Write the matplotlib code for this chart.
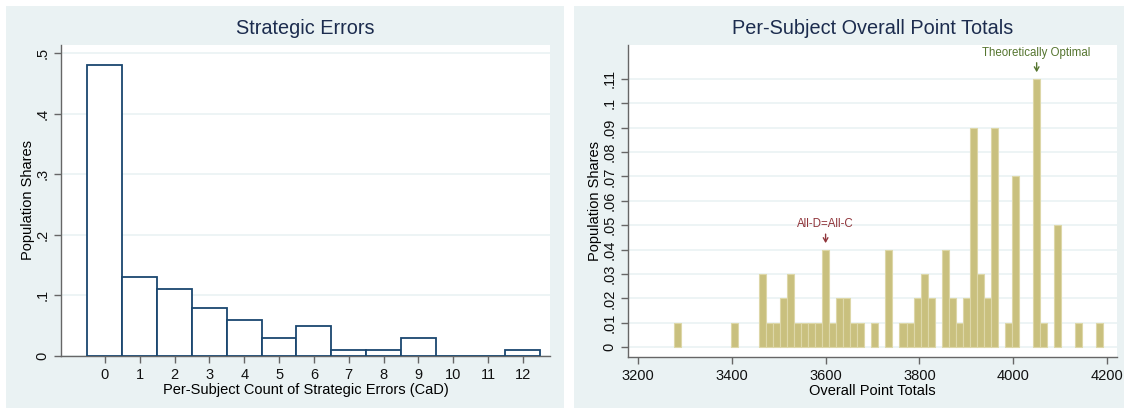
import numpy as np
import matplotlib
matplotlib.use("Agg")
import matplotlib.pyplot as plt
from matplotlib.patches import Rectangle

plt.rcParams['font.family'] = ['Liberation Sans', 'DejaVu Sans']


# --- Data: strategic errors (left) ---

err_counts = [0, 1, 2, 3, 4, 5, 6, 7, 8, 9, 10, 11, 12]
err_shares = [0.48, 0.13, 0.11, 0.08, 0.06, 0.03, 0.05, 0.01, 0.01, 0.03, 0.0, 0.0, 0.01]

# --- Data: overall point totals (right), bins of width 15 ---

pt_centres = [3285, 3405,
              3465, 3480, 3495, 3510, 3525, 3540, 3555, 3570, 3585, 3600,
              3615, 3630, 3645, 3660, 3675, 3705, 3735,
              3765, 3780, 3795, 3810, 3825,
              3855, 3870, 3885, 3900, 3915, 3930, 3945, 3960,
              3990, 4005, 4050, 4065, 4095, 4140, 4185]
pt_shares = [0.01, 0.01,
             0.03, 0.01, 0.01, 0.02, 0.03, 0.01, 0.01, 0.01, 0.01, 0.04,
             0.01, 0.02, 0.02, 0.01, 0.01, 0.01, 0.04,
             0.01, 0.01, 0.02, 0.03, 0.02,
             0.04, 0.02, 0.01, 0.02, 0.09, 0.03, 0.02, 0.09,
             0.01, 0.07, 0.11, 0.01, 0.05, 0.01, 0.01]
bin_width = 15

left_yticks = [0, 0.1, 0.2, 0.3, 0.4, 0.5]
left_ylabels = ['0', '.1', '.2', '.3', '.4', '.5']
right_yticks = [i / 100 for i in range(12)]
right_ylabels = ['0'] + ['.%02d' % i for i in range(1, 10)] + ['.1', '.11']
right_xticks = [3200, 3400, 3600, 3800, 4000, 4200]


# --- Figure and panel backgrounds ---

W, H = 1124, 408
fig = plt.figure(figsize=(W / 100, H / 100), dpi=100)
fig.patch.set_facecolor('white')

panel_bg = '#eaf2f3'
fig.patches.append(Rectangle((6 / W, 0), 558 / W, 402 / H, transform=fig.transFigure,
                             facecolor=panel_bg, edgecolor='none', zorder=-5))
fig.patches.append(Rectangle((574 / W, 0), 550 / W, 402 / H, transform=fig.transFigure,
                             facecolor=panel_bg, edgecolor='none', zorder=-5))

ax1 = fig.add_axes([61 / W, (H - 356) / H, 489 / W, 311 / H])
ax2 = fig.add_axes([628 / W, (H - 357) / H, 489 / W, 312 / H])

title_col = '#1c2c4e'
axis_col = '#666666'
grid_col = '#eaf2f3'


def style_axes(ax):
    ax.set_facecolor('white')
    for side in ('top', 'right'):
        ax.spines[side].set_visible(False)
    for side in ('left', 'bottom'):
        ax.spines[side].set_color(axis_col)
        ax.spines[side].set_linewidth(1.0)
    ax.tick_params(axis='both', colors=axis_col, labelcolor='#111111',
                   length=5, width=1.0, labelsize=10.5)
    ax.grid(axis='y', color=grid_col, linewidth=1.2)
    ax.set_axisbelow(True)


# --- Left: strategic errors histogram ---

style_axes(ax1)
ax1.bar(err_counts, err_shares, width=1.0, facecolor='white',
        edgecolor='#1a476f', linewidth=1.3, zorder=3)
ax1.set_xlim(-1.26, 12.78)
ax1.set_ylim(0, 0.513)
ax1.set_xticks(err_counts)
ax1.set_yticks(left_yticks)
ax1.set_yticklabels(left_ylabels, rotation=90, va='center')
ax1.set_title('Strategic Errors', fontsize=14.3, color=title_col, pad=8)
ax1.set_xlabel('Per-Subject Count of Strategic Errors (CaD)', fontsize=10.5, labelpad=1)
ax1.set_ylabel('Population Shares', fontsize=10.5)
ax1.yaxis.set_label_coords(-0.053, 0.5)

# --- Right: overall point totals histogram ---

style_axes(ax2)
ax2.bar(pt_centres, pt_shares, width=bin_width, facecolor='#c9c07e',
        edgecolor='#ddd7a8', linewidth=0.8, zorder=3)
ax2.set_xlim(3178.7, 4221.3)
ax2.set_ylim(-0.004, 0.1238)
ax2.set_xticks(right_xticks)
ax2.set_yticks(right_yticks)
ax2.set_yticklabels(right_ylabels, rotation=90, va='center')
ax2.set_title('Per-Subject Overall Point Totals', fontsize=14.3, color=title_col, pad=8)
ax2.set_xlabel('Overall Point Totals', fontsize=10.5, labelpad=1)
ax2.set_ylabel('Population Shares', fontsize=10.5)
ax2.yaxis.set_label_coords(-0.053, 0.5)

arrow_kw = dict(arrowstyle='->, head_length=0.35, head_width=0.2', lw=1.0,
                shrinkA=1, shrinkB=2)
ax2.annotate('All-D=All-C', xy=(3600, 0.0415), xytext=(3600, 0.0505),
             ha='center', va='center', fontsize=8.3, color='#90353b',
             arrowprops=dict(color='#90353b', **arrow_kw))
ax2.annotate('Theoretically Optimal', xy=(4050, 0.1115), xytext=(4050, 0.1207),
             ha='center', va='center', fontsize=8.3, color='#55752f',
             arrowprops=dict(color='#55752f', **arrow_kw))

fig.savefig('out.png', dpi=100)
